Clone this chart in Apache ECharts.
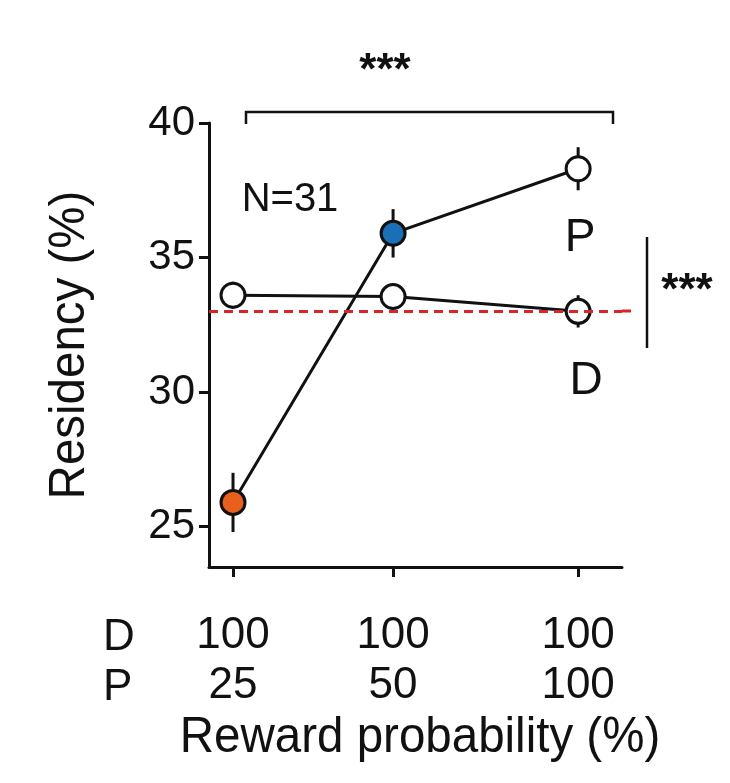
<!DOCTYPE html>
<html>
<head>
<meta charset="utf-8">
<script src="https://cdn.jsdelivr.net/npm/echarts@6/dist/echarts.min.js"></script>
<style>html,body{margin:0;padding:0;background:#fff}#chart{width:730px;height:783px}</style>
</head>
<body>
<div id="chart"></div>
<script>
// category positions on the x axis (spacing follows the figure)
let xPos = [1, 2, 3.156];
let dLabels = ['100', '100', '100'];
let pLabels = ['25', '50', '100'];
let pMean = [25.9, 35.9, 38.3];
let pErr = [1.1, 0.9, 0.8];
let dMean = [33.6, 33.55, 33.0];
let dErr = [0.5, 0.4, 0.6];
let pColors = ['#e8601c', '#1a6fb5', '#ffffff'];
let yTicks = [25, 30, 35, 40];
let chanceLevel = 33.0;

const font = '"Liberation Sans Narrow", "Liberation Sans", Arial, sans-serif';
let chart = echarts.init(document.getElementById('chart'));

function errBars(means, errs) {
  return xPos.map((x, i) => [x, means[i] - errs[i], means[i] + errs[i]]);
}
function errRender(params, api) {
  let lo = api.coord([api.value(0), api.value(1)]);
  let hi = api.coord([api.value(0), api.value(2)]);
  return {
    type: 'line',
    shape: { x1: lo[0], y1: lo[1], x2: hi[0], y2: hi[1] },
    style: { stroke: '#111', lineWidth: 3 }
  };
}

let option = {
  animation: false,
  grid: { left: 209, right: 108, top: 123, bottom: 216 },
  xAxis: {
    type: 'value', min: 0.85, max: 3.43,
    splitLine: { show: false },
    axisLine: { lineStyle: { color: '#111', width: 3 } },
    axisTick: { customValues: xPos, length: 10, lineStyle: { color: '#111', width: 3 } },
    axisLabel: {
      customValues: xPos, margin: 44, fontSize: 44, color: '#111', fontFamily: font, lineHeight: 50,
      formatter: v => { let i = xPos.findIndex(x => Math.abs(x - v) < 1e-6); return i < 0 ? '' : dLabels[i] + '\n' + pLabels[i]; }
    }
  },
  yAxis: {
    type: 'value', min: 23.5, max: 40,
    splitLine: { show: false },
    axisLine: { show: true, lineStyle: { color: '#111', width: 3 } },
    axisTick: { show: true, customValues: yTicks, length: 10, lineStyle: { color: '#111', width: 3 } },
    axisLabel: { customValues: yTicks, fontSize: 42, color: '#111', fontFamily: font, margin: 14 }
  },
  series: [
    { type: 'custom', renderItem: errRender, data: errBars(dMean, dErr), z: 2 },
    { type: 'custom', renderItem: errRender, data: errBars(pMean, pErr), z: 2 },
    {
      type: 'line', data: xPos.map((x, i) => [x, dMean[i]]), z: 3,
      symbol: 'circle', symbolSize: 24,
      lineStyle: { color: '#111', width: 3 },
      itemStyle: { color: '#fff', borderColor: '#111', borderWidth: 3 },
      markLine: {
        silent: true, symbol: 'none', label: { show: false },
        lineStyle: { color: '#d62728', type: [9, 6], width: 3 },
        data: [{ yAxis: chanceLevel }]
      }
    },
    {
      type: 'line', z: 4,
      data: xPos.map((x, i) => ({ value: [x, pMean[i]], itemStyle: { color: pColors[i] } })),
      symbol: 'circle', symbolSize: 24,
      lineStyle: { color: '#111', width: 3 },
      itemStyle: { borderColor: '#111', borderWidth: 3 }
    }
  ],
  graphic: [
    { type: 'text', left: 103, top: 613, style: { text: 'D\nP', fontSize: 44, lineHeight: 50, fontFamily: font, fill: '#111' } },
    { type: 'text', x: 420, y: 738, scaleX: 0.95, style: { text: 'Reward probability (%)', fontSize: 50, fontFamily: font, fill: '#111', align: 'center', verticalAlign: 'middle' } },
    { type: 'text', x: 70, y: 345, rotation: Math.PI / 2, scaleX: 0.95, style: { text: 'Residency (%)', fontSize: 50, fontFamily: font, fill: '#111', align: 'center', verticalAlign: 'middle' } },
    { type: 'text', x: 290, y: 200, style: { text: 'N=31', fontSize: 40, fontFamily: font, fill: '#111', align: 'center', verticalAlign: 'middle' } },
    { type: 'text', x: 580, y: 238, style: { text: 'P', fontSize: 46, fontFamily: font, fill: '#111', align: 'center', verticalAlign: 'middle' } },
    { type: 'text', x: 586, y: 381, style: { text: 'D', fontSize: 46, fontFamily: font, fill: '#111', align: 'center', verticalAlign: 'middle' } },
    { type: 'polyline', shape: { points: [[246, 124], [246, 112], [613, 112], [613, 124]] }, style: { stroke: '#111', lineWidth: 2.5, fill: null } },
    { type: 'text', x: 385, y: 72, style: { text: '***', fontSize: 44, fontWeight: 'bold', fontFamily: font, fill: '#111', align: 'center', verticalAlign: 'middle' } },
    { type: 'line', shape: { x1: 647, y1: 237, x2: 647, y2: 348 }, style: { stroke: '#111', lineWidth: 2.5 } },
    { type: 'text', x: 687, y: 292, style: { text: '***', fontSize: 44, fontWeight: 'bold', fontFamily: font, fill: '#111', align: 'center', verticalAlign: 'middle' } },
    { type: 'line', shape: { x1: 622, y1: 311, x2: 637, y2: 311 }, style: { stroke: '#d62728', lineWidth: 3, lineDash: [9, 6] } }
  ]
};
chart.setOption(option);
</script>
</body>
</html>
